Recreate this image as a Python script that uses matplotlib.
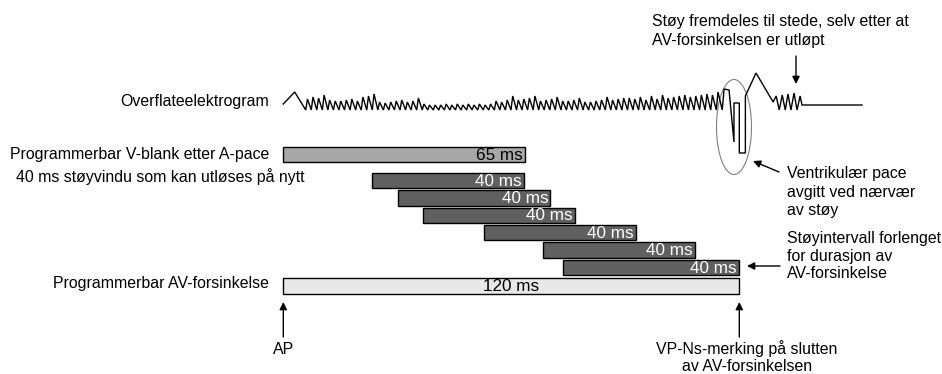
import matplotlib
matplotlib.use("Agg")
import matplotlib.pyplot as plt
from matplotlib.patches import Ellipse

plt.rcParams["font.family"] = ["Liberation Sans", "DejaVu Sans"]

# timing (ms, measured from the atrial pace)
vblank_end = 63.5
vblank_label = "65 ms"
noise_starts = [23.3, 30.3, 36.8, 52.8, 68.4, 73.7]
noise_len = [40, 40, 40, 40, 40, 46.3]
noise_label = "40 ms"
av_delay = 120
av_label = "120 ms"

# surface electrogram, amplitudes in px above baseline
ecg_head_t = [0.0, 3.0, 5.9]
ecg_head_a = [1, 13, -5]
tooth_w = 1.46
tooth_h = [11, 13, 12, 15, 10, 9, 9, 10, 11, 9, 13, 14, 16, 8, 7, 8, 9, 10, 8, 9,
           12, 6, 5, 5, 5, 6, 5, 6, 5, 6, 5, 6, 5, 6,
           9, 8, 10, 14, 10, 11, 12, 14, 9, 10, 11, 13, 9, 9, 10, 12, 8, 8, 9, 10,
           13, 10, 11, 12, 12, 11, 13, 10, 14, 11, 15, 12, 13, 14, 15, 13, 14, 15, 16, 15]
ecg_tail_t = [114.4, 115.5, 116.0, 117.3, 118.6, 118.6, 120.0, 120.0, 121.6, 121.6,
              124.4, 128.9, 129.7, 130.5, 131.3, 132.1, 132.8, 133.6, 134.4, 135.2,
              136.0, 136.5, 152.3]
ecg_tail_a = [13, -5, 16, 15, -37, 2, 2, -48, -48, 9,
              32, 3, 9, -5, 10, -5, 11, -5, 12, -5,
              9, 0, 0]

left_labels = ["Overflateelektrogram", "Programmerbar V-blank etter A-pace",
               "40 ms støyvindu som kan utløses på nytt",
               "Programmerbar AV-forsinkelse"]

PX0, PXMS = 283.3, 3.8   # pixel position of t=0 and pixels per ms


def px(x):
    return (x - PX0) / PXMS


fig = plt.figure(figsize=(9.42, 3.74), dpi=100)
ax = fig.add_axes([0, 0, 1, 1])
ax.set_xlim(px(0), px(942))
ax.set_ylim(374, 0)
ax.axis("off")

# electrogram
base = 105
ts = list(ecg_head_t)
ys = [base - a for a in ecg_head_a]
t0 = ecg_head_t[-1]
for i, h in enumerate(tooth_h):
    ts += [t0 + i * tooth_w + 0.45, t0 + (i + 1) * tooth_w]
    ys += [base + 5 - h, base + 5]
ts += ecg_tail_t
ys += [base - a for a in ecg_tail_a]
ax.plot(ts, ys, color="black", lw=1.0, solid_joinstyle="miter")

ax.add_patch(Ellipse((px(734), 127), 35 / PXMS, 95, fill=False,
                     edgecolor="#808080", lw=0.8))

# bars
bh = 15.5
ax.barh(154.5, vblank_end, left=0, height=bh, color="#a8a8a8",
        edgecolor="black", lw=1.0)
ax.text(vblank_end - 0.6, 155, vblank_label, ha="right", va="center",
        fontsize=12.3, color="black")

rows = [180.5, 198, 215.3, 232.7, 250.2, 267.6]
ax.barh(rows, noise_len, left=noise_starts, height=bh, color="#606060",
        edgecolor="black", lw=1.0)
for y, s, w in zip(rows, noise_starts, noise_len):
    ax.text(s + w - 0.6, y + 0.5, noise_label, ha="right", va="center",
            fontsize=12.3, color="white")

ax.barh(286, av_delay, left=0, height=bh, color="#e8e8e8",
        edgecolor="black", lw=1.0)
ax.text(av_delay / 2, 286.5, av_label, ha="center", va="center",
        fontsize=12.3, color="black")

# labels on the left
fs = 11.4
ax.text(px(269), 101, left_labels[0], ha="right", va="center", fontsize=fs)
ax.text(px(269), 154, left_labels[1], ha="right", va="center", fontsize=fs)
ax.text(px(16), 177, left_labels[2], ha="left", va="center", fontsize=fs)
ax.text(px(269), 283.5, left_labels[3], ha="right", va="center", fontsize=fs)

# annotations
arrow = dict(arrowstyle="-|>", color="black", lw=1.0, mutation_scale=11,
             shrinkA=0, shrinkB=0)
ax.text(px(652), 31, "Støy fremdeles til stede, selv etter at\nAV-forsinkelsen er utløpt",
        ha="left", va="center", fontsize=fs, linespacing=1.3)
ax.annotate("", xy=(px(796), 84), xytext=(px(796), 56), arrowprops=arrow)

ax.text(px(787), 192, "Ventrikulær pace\navgitt ved nærvær\nav støy",
        ha="left", va="center", fontsize=fs, linespacing=1.28)
ax.annotate("", xy=(px(753), 161), xytext=(px(779), 172), arrowprops=arrow)

ax.text(px(787), 256, "Støyintervall forlenget\nfor durasjon av\nAV-forsinkelse",
        ha="left", va="center", fontsize=fs, linespacing=1.2)
ax.annotate("", xy=(px(747), 266), xytext=(px(780), 266), arrowprops=arrow)

ax.annotate("", xy=(0, 302), xytext=(0, 337), arrowprops=arrow)
ax.annotate("", xy=(av_delay, 302), xytext=(av_delay, 337), arrowprops=arrow)
ax.text(0, 350, "AP", ha="center", va="center", fontsize=fs)
ax.text(px(747), 357, "VP-Ns-merking på slutten\nav AV-forsinkelsen",
        ha="center", va="center", fontsize=fs, linespacing=1.12)

fig.savefig("out.png", dpi=100)
